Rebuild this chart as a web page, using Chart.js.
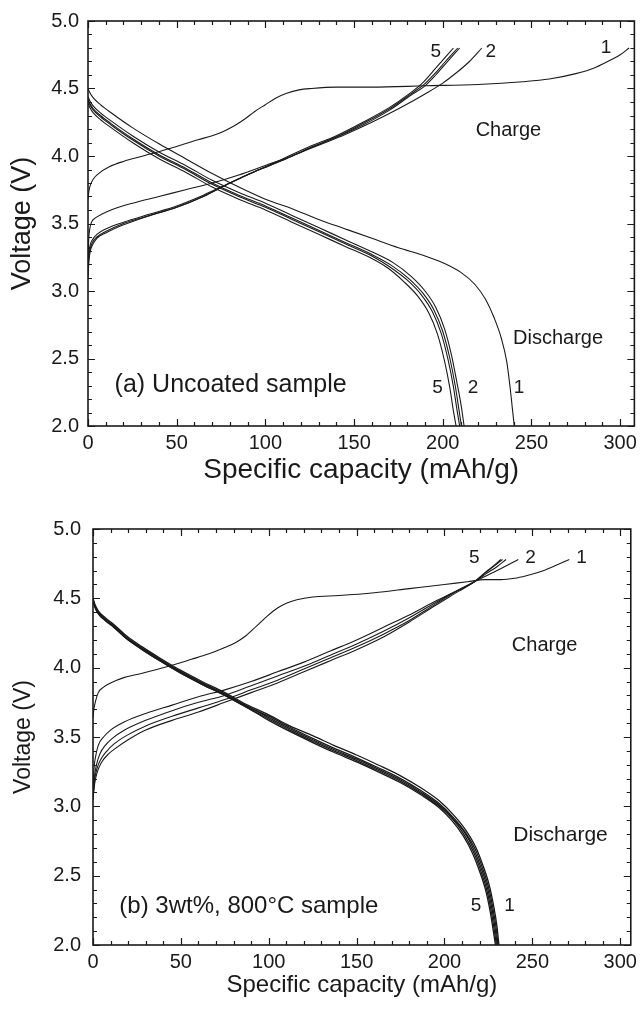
<!DOCTYPE html>
<html>
<head>
<meta charset="utf-8">
<script src="https://cdn.jsdelivr.net/npm/chart.js@4.4.0/dist/chart.umd.min.js"></script>
<style>
  body { margin: 0; background: #fff; }
  canvas { display: block; }
</style>
</head>
<body>
<canvas id="chartA" width="642" height="500"></canvas>
<canvas id="chartB" width="642" height="513"></canvas>
<script>
// ---- (a) Uncoated sample : capacity (mAh/g) / voltage (V) ----
const chg1A_cap = [0, 0.5, 1.5, 3, 6, 12, 20, 31, 50, 62, 70, 76, 82, 88, 94, 100, 106, 112, 119, 126, 140, 160, 190, 220, 245, 260, 275, 285, 293, 300, 305];
const chg1A_v   = [3.68, 3.74, 3.79, 3.83, 3.87, 3.92, 3.96, 4.00, 4.07, 4.12, 4.15, 4.18, 4.22, 4.27, 4.33, 4.38, 4.43, 4.465, 4.49, 4.50, 4.51, 4.51, 4.52, 4.53, 4.55, 4.57, 4.61, 4.65, 4.70, 4.75, 4.80];
const chg2A_cap = [0, 0.4, 1, 2, 4, 8, 13, 25, 40, 55, 70, 85, 100, 115, 130, 145, 160, 175, 190, 200, 208, 215, 222];
const chg2A_v   = [3.20, 3.38, 3.46, 3.51, 3.54, 3.57, 3.60, 3.65, 3.70, 3.75, 3.80, 3.86, 3.93, 4.00, 4.08, 4.16, 4.25, 4.35, 4.46, 4.54, 4.62, 4.70, 4.80];
const chg3A_cap = [0, 0.5, 1.2, 2.5, 5, 10, 20, 35, 50, 65, 80, 95, 110, 125, 140, 155, 170, 182, 190, 196, 202, 209.5];
const chg3A_v   = [3.15, 3.28, 3.34, 3.38, 3.42, 3.46, 3.51, 3.57, 3.63, 3.71, 3.80, 3.89, 3.97, 4.06, 4.14, 4.23, 4.34, 4.45, 4.52, 4.60, 4.69, 4.80];
const chg4A_cap = [0, 0.5, 1.2, 2.5, 5, 10, 20, 35, 50, 65, 80, 95, 110, 125, 140, 155, 170, 182, 189.5, 195.5, 201.5, 208.5];
const chg4A_v   = [3.12, 3.25, 3.31, 3.36, 3.40, 3.44, 3.50, 3.56, 3.62, 3.70, 3.80, 3.89, 3.97, 4.06, 4.14, 4.24, 4.35, 4.46, 4.53, 4.61, 4.70, 4.80];
const chg5A_cap = [0, 0.5, 1.2, 2.5, 5, 10, 20, 35, 50, 65, 80, 95, 110, 125, 140, 155, 170, 181, 188.5, 194, 200, 206];
const chg5A_v   = [3.10, 3.22, 3.29, 3.34, 3.39, 3.43, 3.49, 3.56, 3.62, 3.70, 3.80, 3.89, 3.98, 4.07, 4.15, 4.25, 4.36, 4.46, 4.54, 4.62, 4.71, 4.80];

const dis1A_cap = [0, 1, 3, 7, 13, 25, 40, 55, 70, 85, 100, 115, 130, 145, 160, 175, 190, 200, 210, 218, 224, 229, 233, 236, 238, 239.3, 240.3];
const dis1A_v   = [4.50, 4.47, 4.43, 4.38, 4.32, 4.21, 4.09, 3.98, 3.87, 3.77, 3.68, 3.61, 3.53, 3.46, 3.39, 3.32, 3.26, 3.21, 3.14, 3.05, 2.94, 2.80, 2.65, 2.48, 2.28, 2.12, 2.00];
const dis2A_cap = [0, 1, 3, 7, 13, 25, 40, 55, 70, 85, 100, 115, 130, 145, 160, 172, 182, 190, 196, 201, 205, 208, 210.5, 212];
const dis2A_v   = [4.44, 4.41, 4.37, 4.32, 4.26, 4.15, 4.03, 3.93, 3.82, 3.73, 3.65, 3.56, 3.47, 3.38, 3.29, 3.21, 3.11, 3.00, 2.88, 2.72, 2.52, 2.32, 2.14, 2.00];
const dis3A_cap = [0, 1, 3, 7, 13, 25, 40, 55, 70, 85, 100, 115, 130, 145, 160, 171, 181, 189, 195, 200, 204, 207, 209, 210.5];
const dis3A_v   = [4.42, 4.39, 4.35, 4.30, 4.24, 4.13, 4.01, 3.91, 3.80, 3.71, 3.63, 3.54, 3.45, 3.36, 3.27, 3.19, 3.09, 2.98, 2.86, 2.70, 2.50, 2.30, 2.13, 2.00];
const dis4A_cap = [0, 1, 3, 7, 13, 25, 40, 55, 70, 85, 100, 115, 130, 145, 160, 170, 180, 188, 194, 199, 203, 206, 208, 209.5];
const dis4A_v   = [4.41, 4.38, 4.34, 4.29, 4.23, 4.12, 4.00, 3.90, 3.79, 3.70, 3.62, 3.53, 3.44, 3.35, 3.26, 3.18, 3.08, 2.97, 2.85, 2.69, 2.49, 2.29, 2.12, 2.00];
const dis5A_cap = [0, 1, 3, 7, 13, 25, 40, 55, 70, 85, 100, 115, 130, 145, 160, 169, 178, 186, 192, 197, 201, 204, 206, 207.5];
const dis5A_v   = [4.39, 4.36, 4.32, 4.27, 4.21, 4.10, 3.98, 3.88, 3.77, 3.68, 3.60, 3.51, 3.42, 3.33, 3.24, 3.17, 3.07, 2.96, 2.84, 2.68, 2.48, 2.28, 2.11, 2.00];

// ---- (b) 3wt%, 800°C sample ----
const chg1B_cap = [0, 0.5, 1.5, 3, 6, 10, 18, 28, 43, 56, 66, 74, 81, 87, 93, 99, 105, 110, 116, 125, 140, 160, 180, 200, 213, 223, 232, 240, 247, 254, 262, 271];
const chg1B_v   = [3.64, 3.70, 3.76, 3.82, 3.86, 3.89, 3.93, 3.96, 4.01, 4.06, 4.10, 4.14, 4.18, 4.23, 4.30, 4.37, 4.43, 4.465, 4.49, 4.51, 4.52, 4.54, 4.57, 4.60, 4.62, 4.635, 4.635, 4.645, 4.665, 4.69, 4.73, 4.78];
const chg2B_cap = [0, 0.5, 1.5, 3, 6, 10, 18, 30, 45, 60, 75, 90, 105, 120, 135, 150, 165, 180, 195, 208, 217, 225, 233, 242];
const chg2B_v   = [3.05, 3.25, 3.36, 3.44, 3.50, 3.55, 3.61, 3.67, 3.73, 3.79, 3.84, 3.90, 3.97, 4.04, 4.12, 4.20, 4.29, 4.38, 4.48, 4.56, 4.62, 4.67, 4.72, 4.78];
const chg3B_cap = [0, 0.7, 2, 4, 7, 11, 18, 30, 45, 60, 75, 90, 105, 120, 135, 150, 165, 180, 195, 208, 217, 224, 230, 235];
const chg3B_v   = [3.05, 3.20, 3.30, 3.38, 3.44, 3.49, 3.55, 3.62, 3.69, 3.75, 3.80, 3.87, 3.94, 4.01, 4.09, 4.17, 4.26, 4.36, 4.47, 4.56, 4.62, 4.68, 4.73, 4.78];
const chg4B_cap = [0, 0.8, 2.2, 4.5, 8, 12, 19, 30, 45, 60, 75, 90, 105, 120, 135, 150, 165, 180, 195, 208, 217, 223, 228, 233];
const chg4B_v   = [3.05, 3.18, 3.27, 3.34, 3.40, 3.45, 3.51, 3.58, 3.65, 3.71, 3.77, 3.84, 3.91, 3.99, 4.07, 4.15, 4.24, 4.34, 4.46, 4.56, 4.62, 4.68, 4.73, 4.78];
const chg5B_cap = [0, 0.9, 2.5, 5, 9, 13, 20, 30, 45, 60, 75, 90, 105, 120, 135, 150, 165, 180, 195, 208, 217, 222.5, 227.5, 232];
const chg5B_v   = [3.05, 3.16, 3.25, 3.32, 3.38, 3.42, 3.48, 3.55, 3.62, 3.68, 3.75, 3.82, 3.89, 3.97, 4.05, 4.13, 4.22, 4.33, 4.45, 4.55, 4.62, 4.68, 4.73, 4.78];

const dis1B_cap = [0, 1, 3, 7, 12, 19, 28, 38, 50, 62, 75, 88, 100, 112, 125, 137, 150, 162, 175, 187, 197, 205, 212, 218, 222, 225.5, 228, 229.8, 231];
const dis1B_v   = [4.50, 4.46, 4.41, 4.36, 4.31, 4.23, 4.15, 4.07, 3.98, 3.90, 3.82, 3.73, 3.66, 3.58, 3.51, 3.44, 3.37, 3.30, 3.22, 3.13, 3.04, 2.94, 2.83, 2.70, 2.57, 2.43, 2.28, 2.14, 2.00];
const dis2B_cap = [0, 1, 3, 7, 12, 19, 28, 38, 50, 62, 75, 88, 100, 112, 125, 137, 150, 162, 175, 187, 197, 205, 212, 217.5, 221.5, 225, 227.5, 229.3, 230.5];
const dis2B_v   = [4.49, 4.45, 4.40, 4.35, 4.30, 4.22, 4.14, 4.06, 3.97, 3.89, 3.81, 3.72, 3.65, 3.57, 3.49, 3.42, 3.35, 3.28, 3.20, 3.11, 3.02, 2.92, 2.81, 2.69, 2.56, 2.42, 2.27, 2.13, 2.00];
const dis3B_cap = [0, 1, 3, 7, 12, 19, 28, 38, 50, 62, 75, 88, 100, 112, 125, 137, 150, 162, 175, 187, 197, 205, 211.5, 217, 221, 224.5, 227, 228.8, 230];
const dis3B_v   = [4.49, 4.45, 4.40, 4.35, 4.30, 4.22, 4.14, 4.06, 3.97, 3.89, 3.81, 3.72, 3.64, 3.56, 3.48, 3.41, 3.34, 3.27, 3.19, 3.10, 3.01, 2.91, 2.81, 2.68, 2.55, 2.41, 2.26, 2.12, 2.00];
const dis4B_cap = [0, 1, 3, 7, 12, 19, 28, 38, 50, 62, 75, 88, 100, 112, 125, 137, 150, 162, 175, 187, 197, 204.5, 211, 216.5, 220.5, 224, 226.5, 228.3, 229.5];
const dis4B_v   = [4.48, 4.44, 4.39, 4.34, 4.29, 4.21, 4.13, 4.05, 3.96, 3.88, 3.80, 3.71, 3.63, 3.55, 3.47, 3.40, 3.33, 3.26, 3.18, 3.09, 3.00, 2.91, 2.80, 2.67, 2.54, 2.40, 2.25, 2.11, 2.00];
const dis5B_cap = [0, 1, 3, 7, 12, 19, 28, 38, 50, 62, 75, 88, 100, 112, 125, 137, 150, 162, 175, 187, 197, 204, 210.5, 216, 220, 223.5, 226, 227.8, 229];
const dis5B_v   = [4.48, 4.44, 4.39, 4.34, 4.29, 4.21, 4.13, 4.05, 3.96, 3.88, 3.80, 3.71, 3.62, 3.54, 3.46, 3.39, 3.32, 3.25, 3.17, 3.08, 2.99, 2.90, 2.79, 2.66, 2.53, 2.39, 2.24, 2.10, 2.00];

// axis ranges and tick labels
const xTicks = [0, 50, 100, 150, 200, 250, 300];
const yTicks = [2.0, 2.5, 3.0, 3.5, 4.0, 4.5, 5.0];

// text written inside the plots (data coordinates)
const notesA = [
  { text: '(a) Uncoated sample', x: 15, y: 2.30, size: 25, align: 'left' },
  { text: 'Charge', x: 237, y: 4.19, size: 20 },
  { text: 'Discharge', x: 265, y: 2.65, size: 20 },
  { text: '5', x: 196, y: 4.77, size: 19 },
  { text: '2', x: 227, y: 4.77, size: 19 },
  { text: '1', x: 292, y: 4.80, size: 19 },
  { text: '5', x: 197, y: 2.28, size: 19 },
  { text: '2', x: 217, y: 2.28, size: 19 },
  { text: '1', x: 243, y: 2.28, size: 19 }
];
const notesB = [
  { text: '(b) 3wt%, 800°C sample', x: 15, y: 2.28, size: 24, align: 'left' },
  { text: 'Charge', x: 257, y: 4.16, size: 20 },
  { text: 'Discharge', x: 266, y: 2.79, size: 21 },
  { text: '5', x: 217, y: 4.79, size: 19 },
  { text: '2', x: 249, y: 4.79, size: 19 },
  { text: '1', x: 278, y: 4.79, size: 19 },
  { text: '5', x: 218, y: 2.28, size: 19 },
  { text: '1', x: 237, y: 2.28, size: 19 }
];

const FONT = 'Arial, "Liberation Sans", Helvetica, sans-serif';
const INK = '#1a1a1a';

function pts(cap, v) {
  return cap.map((x, i) => ({ x: x, y: v[i] }));
}

function curve(label, cap, v, width) {
  return {
    label: label,
    data: pts(cap, v),
    showLine: true,
    borderColor: INK,
    borderWidth: width || 1.1,
    pointRadius: 0,
    cubicInterpolationMode: 'monotone',
    fill: false
  };
}

// frame with inward ticks on all four sides
const frameTicks = {
  id: 'frameTicks',
  afterDatasetsDraw(chart) {
    const { ctx, chartArea: a, scales: { x, y } } = chart;
    ctx.save();
    ctx.strokeStyle = INK;
    ctx.lineWidth = 1.2;
    ctx.beginPath();
    for (let i = 0; i * 10 <= x.max; i++) {
      const px = Math.round(x.getPixelForValue(i * 10)) + 0.5;
      const len = i % 5 === 0 ? 7 : 4;
      ctx.moveTo(px, a.bottom); ctx.lineTo(px, a.bottom - len);
      ctx.moveTo(px, a.top); ctx.lineTo(px, a.top + len);
    }
    for (let j = 20; j <= 50; j++) {
      const py = Math.round(y.getPixelForValue(j / 10)) + 0.5;
      const len = j % 5 === 0 ? 7 : 4;
      ctx.moveTo(a.left, py); ctx.lineTo(a.left + len, py);
      ctx.moveTo(a.right, py); ctx.lineTo(a.right - len, py);
    }
    ctx.stroke();
    ctx.lineWidth = 1.6;
    ctx.strokeRect(a.left, a.top, a.right - a.left, a.bottom - a.top);
    ctx.restore();
  }
};

// labels placed through the scales
const notes = {
  id: 'notes',
  afterDraw(chart, args, opts) {
    const { ctx, scales: { x, y } } = chart;
    ctx.save();
    ctx.fillStyle = INK;
    ctx.textBaseline = 'middle';
    (opts.items || []).forEach(n => {
      ctx.font = n.size + 'px ' + FONT;
      ctx.textAlign = n.align || 'center';
      ctx.fillText(n.text, x.getPixelForValue(n.x), y.getPixelForValue(n.y));
    });
    ctx.restore();
  }
};

function makeChart(id, sets, cfg) {
  new Chart(document.getElementById(id), {
    type: 'scatter',
    data: { datasets: sets },
    plugins: [frameTicks, notes],
    options: {
      responsive: false,
      animation: false,
      layout: { padding: { top: cfg.top, right: cfg.right, left: 0, bottom: 0 } },
      plugins: {
        legend: { display: false },
        tooltip: { enabled: false },
        notes: { items: cfg.notes }
      },
      scales: {
        x: {
          type: 'linear',
          min: 0,
          max: cfg.xMax,
          afterFit: s => { s.height = cfg.xHeight; },
          afterBuildTicks: s => { s.ticks = xTicks.map(v => ({ value: v })); },
          grid: { display: false, drawTicks: false },
          border: { display: false },
          ticks: { color: INK, padding: 5, font: { family: FONT, size: 20 } },
          title: {
            display: true,
            text: 'Specific capacity (mAh/g)',
            color: INK,
            font: { family: FONT, size: cfg.xTitleSize },
            padding: { top: 0, bottom: cfg.xTitlePad }
          }
        },
        y: {
          type: 'linear',
          min: 2,
          max: 5,
          afterFit: s => { s.width = cfg.yWidth; },
          afterBuildTicks: s => { s.ticks = yTicks.map(v => ({ value: v })); },
          grid: { display: false, drawTicks: false },
          border: { display: false },
          ticks: {
            color: INK,
            padding: cfg.yTickPad,
            font: { family: FONT, size: 20 },
            callback: v => v.toFixed(1)
          },
          title: {
            display: true,
            text: 'Voltage (V)',
            color: INK,
            font: { family: FONT, size: cfg.yTitleSize },
            padding: { top: cfg.yTitlePad, bottom: 0 }
          }
        }
      }
    }
  });
}

makeChart('chartA', [
  curve('Charge 1', chg1A_cap, chg1A_v),
  curve('Charge 2', chg2A_cap, chg2A_v),
  curve('Charge 3', chg3A_cap, chg3A_v),
  curve('Charge 4', chg4A_cap, chg4A_v),
  curve('Charge 5', chg5A_cap, chg5A_v),
  curve('Discharge 1', dis1A_cap, dis1A_v),
  curve('Discharge 2', dis2A_cap, dis2A_v),
  curve('Discharge 3', dis3A_cap, dis3A_v),
  curve('Discharge 4', dis4A_cap, dis4A_v),
  curve('Discharge 5', dis5A_cap, dis5A_v)
], {
  top: 16, right: 5, xMax: 308, xHeight: 74, yWidth: 88,
  xTitleSize: 28, xTitlePad: 13, yTitleSize: 27, yTitlePad: 6, yTickPad: 9,
  notes: notesA
});

makeChart('chartB', [
  curve('Charge 1', chg1B_cap, chg1B_v),
  curve('Charge 2', chg2B_cap, chg2B_v),
  curve('Charge 3', chg3B_cap, chg3B_v),
  curve('Charge 4', chg4B_cap, chg4B_v),
  curve('Charge 5', chg5B_cap, chg5B_v),
  curve('Discharge 1', dis1B_cap, dis1B_v, 1.3),
  curve('Discharge 2', dis2B_cap, dis2B_v, 1.3),
  curve('Discharge 3', dis3B_cap, dis3B_v, 1.3),
  curve('Discharge 4', dis4B_cap, dis4B_v, 1.3),
  curve('Discharge 5', dis5B_cap, dis5B_v, 1.3)
], {
  top: 29, right: 4, xMax: 306, xHeight: 68, yWidth: 93,
  xTitleSize: 24, xTitlePad: 13, yTitleSize: 23, yTitlePad: 10, yTickPad: 12,
  notes: notesB
});
</script>
</body>
</html>
